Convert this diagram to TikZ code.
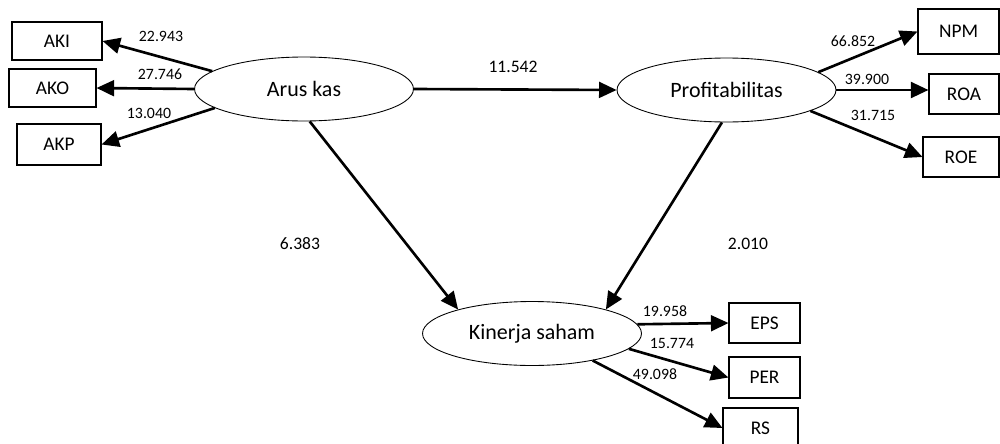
\documentclass[tikz,border=0pt]{standalone}
\usepackage{fontspec}
\setmainfont{Carlito}
\usetikzlibrary{arrows.meta,shapes.geometric}
\tikzset{
  latent/.style={ellipse, draw, line width=0.5pt, minimum width=4.38cm, minimum height=1.28cm, inner sep=0pt, font=\fontsize{12.5}{14}\selectfont},
  indic/.style={rectangle, draw, line width=0.6pt, inner sep=0pt, font=\fontsize{11}{13}\selectfont},
  val/.style={font=\fontsize{9}{11}\selectfont, inner sep=0pt},
  path/.style={line width=1.5pt, -{Triangle[length=10pt,width=9pt]}}
}
\begin{document}
\begin{tikzpicture}[x=0.02cm, y=-0.02cm]
\useasboundingbox (0,0) rectangle (1000,443);
% latent variables
\node[latent] at (304,89) (ak) {Arus kas};
\node[latent] at (726.5,90) (pr) {Profitabilitas};
\node[latent] at (532,333.5) (ks) {Kinerja saham};

% indicators of Arus kas
\node[indic, minimum width=1.8cm, minimum height=0.76cm] at (57,41) (aki) {AKI};
\node[indic, minimum width=1.74cm, minimum height=0.76cm] at (52.5,88) (ako) {AKO};
\node[indic, minimum width=1.68cm, minimum height=0.82cm] at (59,144.5) (akp) {AKP};
\draw[path] (ak.169) -- (aki.east);
\draw[path] (ak.west) -- (ako.east);
\draw[path] (ak.192) -- (akp.east);
\node[val] at (161,36) (v1) {22.943};
\node[val] at (160,74) (v2) {27.746};
\node[val] at (149,113) (v3) {13.040};

% indicators of Profitabilitas
\node[indic, minimum width=1.62cm, minimum height=0.9cm] at (958.5,31.5) (npm) {NPM};
\node[indic, minimum width=1.4cm, minimum height=0.8cm] at (964,94) (roa) {ROA};
\node[indic, minimum width=1.52cm, minimum height=0.8cm] at (961,157) (roe) {ROE};
\draw[path] (pr.11) -- (npm.west);
\draw[path] (pr.east) -- (pr.east -| roa.west);
\draw[path] (pr.-14) -- (roe.west);
\node[val] at (853,41) (v4) {66.852};
\node[val] at (867,79) (v5) {39.900};
\node[val] at (873,115) (v6) {31.715};

% indicators of Kinerja saham
\node[indic, minimum width=1.42cm, minimum height=0.8cm] at (764.5,323) (eps) {EPS};
\node[indic, minimum width=1.42cm, minimum height=0.82cm] at (764.5,377.5) (per) {PER};
\node[indic, minimum width=1.5cm, minimum height=0.8cm] at (760.5,428) (rs) {RS};
\draw[path] (ks.5) -- (eps.west);
\draw[path] (ks.-9) -- (per.west);
\draw[path] (ks.-24) -- (rs.west);
\node[val] at (665,311) (v7) {19.958};
\node[val] at (672,343) (v8) {15.774};
\node[val] at (655,374) (v9) {49.098};

% structural paths
\draw[path] (ak.east) -- (pr.west);
\draw[path] (ak.-80) -- (ks.162);
\draw[path] (pr.-98) -- (ks.18);
\node[val, font=\fontsize{10}{12}\selectfont] at (513,67) (b1) {11.542};
\node[val, font=\fontsize{10}{12}\selectfont] at (300,244) (b2) {6.383};
\node[val, font=\fontsize{10}{12}\selectfont] at (748,244) (b3) {2.010};
\end{tikzpicture}
\end{document}
